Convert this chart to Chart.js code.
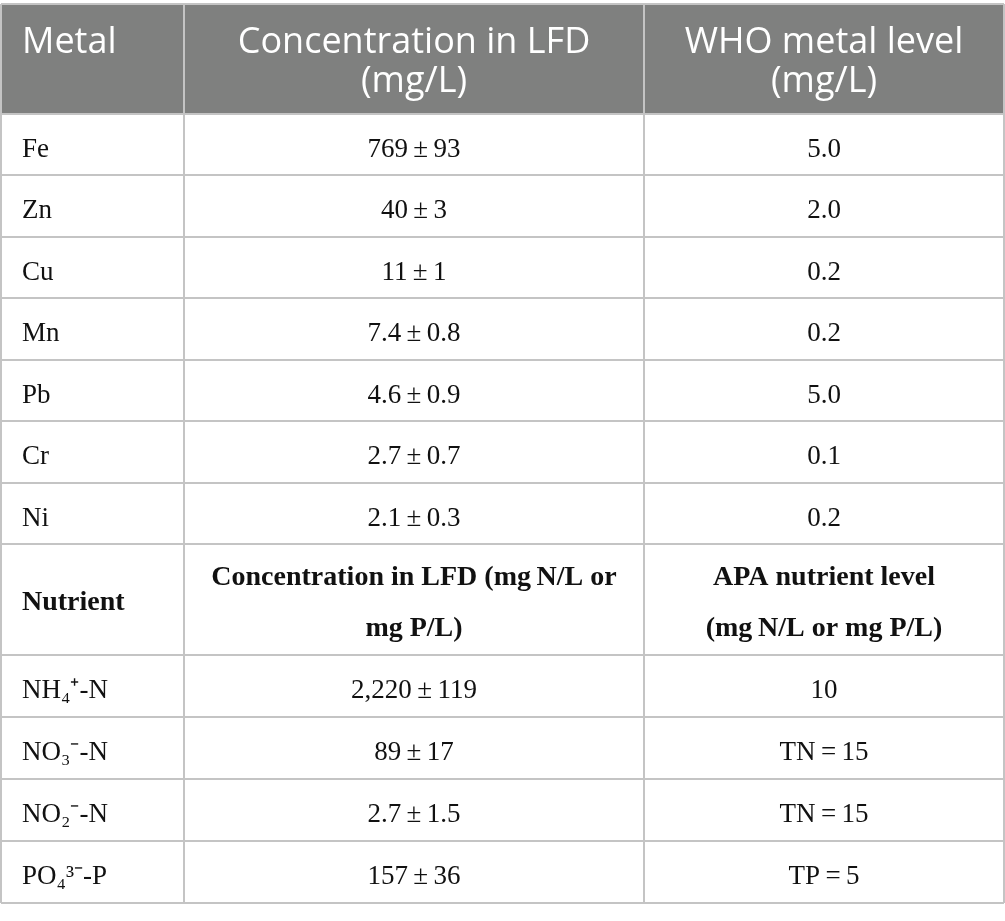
<!DOCTYPE html>
<html>
<head>
<meta charset="utf-8">
<script src="https://cdn.jsdelivr.net/npm/chart.js@4.4.1/dist/chart.umd.min.js"></script>
<style>
    html, body { margin: 0; padding: 0; background: #ffffff; }
    #wrap { width: 1005px; height: 921px; position: relative; }
</style>
</head>
<body>
<div id="wrap"><canvas id="tableChart"></canvas></div>
<script>
// table content
var metalHeader = [["Metal"], ["Concentration in LFD", "(mg/L)"], ["WHO metal level", "(mg/L)"]];
var metals = ["Fe", "Zn", "Cu", "Mn", "Pb", "Cr", "Ni"];
var metalMean = ["769", "40", "11", "7.4", "4.6", "2.7", "2.1"];
var metalSd = ["93", "3", "1", "0.8", "0.9", "0.7", "0.3"];
var whoLevel = ["5.0", "2.0", "0.2", "0.2", "5.0", "0.1", "0.2"];

var nutrientHeader = [["Nutrient"], ["Concentration in LFD (mg\u2009N/L or", "mg P/L)"], ["APA nutrient level", "(mg\u2009N/L or mg P/L)"]];
var nutrients = ["NH\u2084\u207A-N", "NO\u2083\u207B-N", "NO\u2082\u207B-N", "PO\u2084\u00B3\u207B-P"];
var nutrientMean = ["2,220", "89", "2.7", "157"];
var nutrientSd = ["119", "17", "1.5", "36"];
var apaLevel = ["10", "TN\u2009=\u200915", "TN\u2009=\u200915", "TP\u2009=\u20095"];

// layout of the grid (scale units)
var colEdges = [0, 183, 643, 1003];
var rows = [];
rows.push({ kind: "head", h: 110, cells: metalHeader });
metals.forEach(function (m, i) {
    rows.push({ kind: "body", h: 61.43, cells: [m, metalMean[i] + "\u2009\u00B1\u2009" + metalSd[i], whoLevel[i]] });
});
rows.push({ kind: "sub", h: 111, cells: nutrientHeader });
nutrients.forEach(function (n, i) {
    rows.push({ kind: "body", h: 62, cells: [n, nutrientMean[i] + "\u2009\u00B1\u2009" + nutrientSd[i], apaLevel[i]] });
});
var rowEdges = [0];
rows.forEach(function (r) { rowEdges.push(rowEdges[rowEdges.length - 1] + r.h); });
var yMax = rowEdges[rowEdges.length - 1];

var tablePlugin = {
    id: "tableCells",
    beforeDraw: function (chart) {
        var c = chart.ctx, xs = chart.scales.x, ys = chart.scales.y;
        c.save();
        c.fillStyle = "#7f807f";
        rows.forEach(function (r, i) {
            if (r.kind !== "head") return;
            var x0 = xs.getPixelForValue(colEdges[0]), x1 = xs.getPixelForValue(colEdges[3]);
            var y0 = ys.getPixelForValue(rowEdges[i]), y1 = ys.getPixelForValue(rowEdges[i + 1]);
            c.fillRect(x0, y0, x1 - x0, y1 - y0);
        });
        c.restore();
    },
    afterDraw: function (chart) {
        var c = chart.ctx, xs = chart.scales.x, ys = chart.scales.y;
        c.save();
        c.textBaseline = "alphabetic";
        rows.forEach(function (r, i) {
            var top = rowEdges[i];
            r.cells.forEach(function (cell, j) {
                var left = j === 0;
                var x = left ? xs.getPixelForValue(colEdges[0] + 21) : xs.getPixelForValue((colEdges[j] + colEdges[j + 1]) / 2);
                c.textAlign = left ? "left" : "center";
                if (r.kind === "head") {
                    c.fillStyle = "#ffffff";
                    c.font = "400 36px 'Open Sans'";
                    cell.forEach(function (line, k) {
                        c.fillText(line, x, ys.getPixelForValue(top + 49 + k * 39));
                    });
                } else if (r.kind === "sub") {
                    c.fillStyle = "#111111";
                    c.font = "bold 28px 'Liberation Serif'";
                    if (cell.length === 1) {
                        c.fillText(cell[0], x, ys.getPixelForValue(top + 66));
                    } else {
                        cell.forEach(function (line, k) {
                            c.fillText(line, x, ys.getPixelForValue(top + 41 + k * 51));
                        });
                    }
                } else {
                    c.fillStyle = "#111111";
                    c.font = "27px 'Liberation Serif'";
                    c.fillText(cell, x, ys.getPixelForValue(top + 43));
                }
            });
        });
        c.restore();
    }
};

document.addEventListener("DOMContentLoaded", function () {
    var ctx = document.getElementById("tableChart");
    new Chart(ctx, {
        type: "scatter",
        data: { datasets: [{ data: [], pointRadius: 0 }] },
        options: {
            responsive: true,
            maintainAspectRatio: false,
            animation: false,
            layout: { padding: { top: 4, left: 1, right: 1, bottom: 18 } },
            scales: {
                x: {
                    type: "linear",
                    min: colEdges[0],
                    max: colEdges[3],
                    afterBuildTicks: function (s) { s.ticks = colEdges.map(function (v) { return { value: v }; }); },
                    ticks: { display: false },
                    grid: { color: "#c4c4c4", lineWidth: 2, drawTicks: false },
                    border: { display: false }
                },
                y: {
                    type: "linear",
                    min: 0,
                    max: yMax,
                    reverse: true,
                    afterBuildTicks: function (s) { s.ticks = rowEdges.map(function (v) { return { value: v }; }); },
                    ticks: { display: false },
                    grid: { color: "#c4c4c4", lineWidth: 2, drawTicks: false },
                    border: { display: false }
                }
            },
            plugins: {
                legend: { display: false },
                tooltip: { enabled: false }
            }
        },
        plugins: [tablePlugin]
    });
});
</script>
</body>
</html>
